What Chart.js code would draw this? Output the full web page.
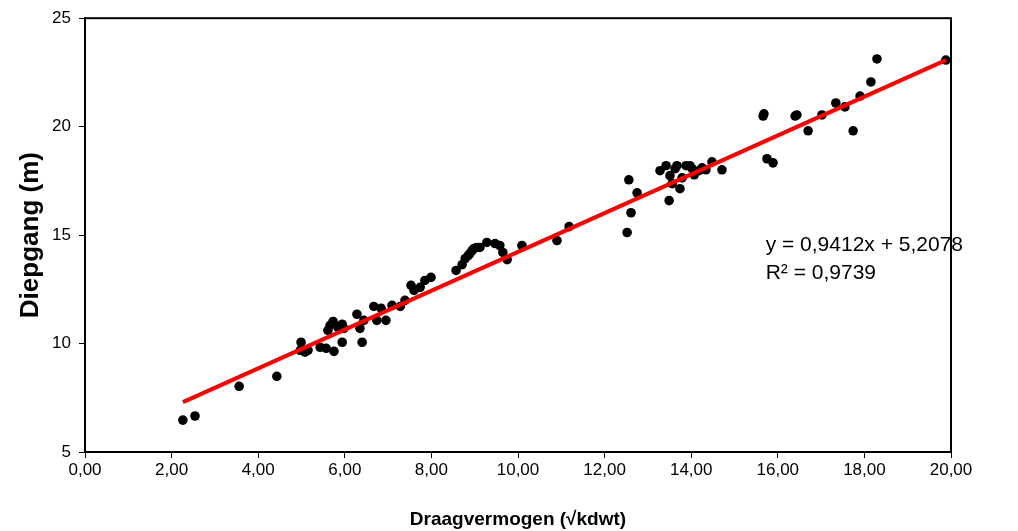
<!DOCTYPE html>
<html>
<head>
<meta charset="utf-8">
<script src="https://cdn.jsdelivr.net/npm/chart.js@4.4.1/dist/chart.umd.min.js"></script>
<style>
  html, body { margin: 0; padding: 0; background: #fff; }
  #wrap { width: 1018px; height: 531px; }
</style>
</head>
<body>
<div id="wrap"><canvas id="grafico"></canvas></div>
<script>
// draagvermogen (sqrt kdwt) en diepgang (m)
var draagvermogen = [2.26, 2.54, 3.56, 4.43, 4.99, 4.97, 5.08, 5.15, 5.43, 5.57,
    5.75, 5.61, 5.66, 5.73, 5.84, 5.94, 5.98, 5.94, 6.28, 6.35,
    6.40, 6.44, 6.67, 6.74, 6.84, 6.95, 7.09, 7.28, 7.39, 7.53,
    7.60, 7.74, 7.85, 7.99, 8.57, 8.71, 8.78, 8.85, 8.89, 8.94,
    8.98, 9.05, 9.12, 9.28, 9.47, 9.58, 9.65, 9.75, 10.09, 10.90,
    11.18, 12.52, 12.56, 12.61, 12.75, 13.28, 13.42, 13.51, 13.56, 13.63,
    13.67, 13.74, 13.79, 13.88, 13.97, 13.49, 14.02, 14.07, 14.18, 14.25,
    14.34, 14.48, 14.71, 15.66, 15.68, 15.75, 15.89, 16.40, 16.44, 16.70,
    17.02, 17.34, 17.55, 17.74, 17.90, 18.15, 18.29, 19.88]
var diepgang = [6.47, 6.66, 8.03, 8.49, 10.06, 9.69, 9.60, 9.69, 9.83, 9.78,
    9.64, 10.61, 10.84, 11.02, 10.75, 10.89, 10.70, 10.06, 11.35, 10.70,
    10.06, 11.07, 11.71, 11.07, 11.62, 11.07, 11.76, 11.71, 11.99, 12.68,
    12.45, 12.59, 12.91, 13.05, 13.37, 13.64, 13.92, 14.06, 14.15, 14.29,
    14.38, 14.43, 14.43, 14.66, 14.61, 14.52, 14.20, 13.87, 14.52, 14.75,
    15.39, 15.12, 17.55, 16.03, 16.95, 17.97, 18.20, 17.74, 17.37, 18.06,
    18.20, 17.14, 17.64, 18.20, 18.20, 16.59, 18.06, 17.78, 17.97, 18.10,
    18.01, 18.38, 18.01, 20.49, 20.59, 18.52, 18.33, 20.49, 20.54, 19.81,
    20.54, 21.09, 20.91, 19.81, 21.41, 22.06, 23.12, 23.07]

// trendlijn begin- en eindpunt
var trendX = [2.26, 19.88]
var trendY = [7.30, 23.07]

var vergelijking = "y = 0,9412x + 5,2078"
var rKwadraat = "R\u00b2 = 0,9739"

var punten = []
for (var i = 0; i < draagvermogen.length; i++) {
    punten.push({ x: draagvermogen[i], y: diepgang[i] })
}
var trendPunten = []
for (var j = 0; j < trendX.length; j++) {
    trendPunten.push({ x: trendX[j], y: trendY[j] })
}

var lettertype = "'Liberation Sans', Arial, sans-serif"

// kader rond het plotgebied en de vergelijking van de trendlijn
var kaderPlugin = {
    id: 'kader',
    afterDatasetsDraw: function (chart) {
        var ctx = chart.ctx
        var a = chart.chartArea
        ctx.save()
        ctx.strokeStyle = '#000'
        ctx.lineWidth = 2
        ctx.strokeRect(a.left, a.top, a.right - a.left, a.bottom - a.top)

        var sx = chart.scales.x
        var sy = chart.scales.y
        ctx.fillStyle = '#000'
        ctx.font = "21px " + lettertype
        ctx.textBaseline = 'middle'
        ctx.fillText(vergelijking, sx.getPixelForValue(15.72), sy.getPixelForValue(14.53))
        ctx.fillText(rKwadraat, sx.getPixelForValue(15.72), sy.getPixelForValue(13.23))
        ctx.restore()
    }
}

function komma(waarde) {
    return Number(waarde).toFixed(2).replace('.', ',')
}

var config = {
    type: 'scatter',
    data: {
        datasets: [{
            label: 'Trendlijn',
            type: 'line',
            data: trendPunten,
            borderColor: '#ff0000',
            borderWidth: 4,
            pointRadius: 0,
            fill: false,
            order: 1
        },
        {
            label: 'Schepen',
            data: punten,
            backgroundColor: '#000',
            borderColor: '#000',
            pointRadius: 4.8,
            pointBorderWidth: 0,
            order: 2
        }]
    },
    options: {
        responsive: false,
        animation: false,
        layout: { padding: { left: 0, right: 67, top: 17, bottom: 0 } },
        plugins: {
            legend: { display: false },
            tooltip: { enabled: false }
        },
        scales: {
            x: {
                type: 'linear',
                min: 0,
                max: 20,
                afterFit: function (scale) { scale.height = 79 },
                border: { display: true, color: '#000', width: 2 },
                grid: { drawOnChartArea: false, tickLength: 6, color: '#000' },
                ticks: {
                    stepSize: 2,
                    color: '#000',
                    padding: 2,
                    maxRotation: 0,
                    font: { family: lettertype, size: 17 },
                    callback: function (v) { return komma(v) }
                },
                title: {
                    display: true,
                    text: 'Draagvermogen (\u221akdwt)',
                    color: '#000',
                    padding: { top: 0, bottom: 0 },
                    font: { family: lettertype, size: 19, weight: 'bold' }
                }
            },
            y: {
                type: 'linear',
                min: 5,
                max: 25,
                afterFit: function (scale) { scale.width = 85 },
                border: { display: true, color: '#000', width: 2 },
                grid: { drawOnChartArea: false, tickLength: 6, color: '#000' },
                ticks: {
                    stepSize: 5,
                    color: '#000',
                    padding: 8,
                    font: { family: lettertype, size: 17 }
                },
                title: {
                    display: true,
                    text: 'Diepgang (m)',
                    color: '#000',
                    padding: { top: 15, bottom: 0 },
                    font: { family: lettertype, size: 26, weight: 'bold' }
                }
            }
        }
    },
    plugins: [kaderPlugin]
}

var canvas = document.getElementById('grafico')
canvas.width = 1018
canvas.height = 531
var grafiek = new Chart(canvas, config)
</script>
</body>
</html>
